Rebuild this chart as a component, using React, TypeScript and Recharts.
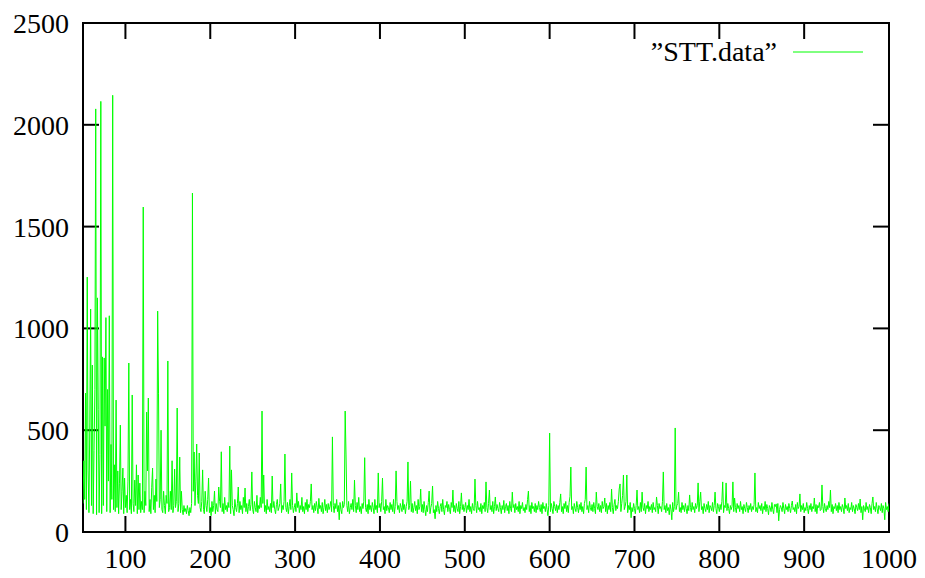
import React from 'react';
import { LineChart, Line, XAxis, YAxis, ReferenceLine, ReferenceArea } from 'recharts';

// STT.data values, x = start + index
const seg050 = [
  140, 350, 160, 682, 110, 1252, 300, 95, 540, 1095,
  130, 820, 90, 400, 700, 2078, 85, 1150, 600, 95,
  380, 2115, 90, 860, 130, 855, 520, 1053, 100, 700,
  250, 1062, 95, 430, 160, 2145, 110, 330, 100, 648,
  120, 300, 90, 240, 525, 110, 200, 314, 90, 265,
];
const seg100 = [
  120, 180, 95, 250, 830, 110, 160, 90, 673, 140,
  100, 255, 130, 330, 90, 280, 110, 240, 95, 150,
  110, 1596, 95, 200, 130, 589, 300, 658, 100, 160,
  90, 220, 314, 110, 180, 95, 260, 150, 1085, 682,
  120, 160, 500, 110, 95, 200, 130, 90, 180, 140,
  840, 100, 120, 200, 110, 350, 95, 130, 309, 120,
  150, 609, 100, 140, 368, 95, 200, 110, 85, 130,
  100, 115, 90, 130, 105, 80, 120, 95, 140, 1665,
  200, 393, 130, 250, 432, 180, 140, 388, 120, 100,
  150, 305, 110, 90, 200, 130, 100, 160, 265, 95,
];
const seg200 = [
  120, 80, 150, 100, 130, 201, 90, 140, 110, 100,
  221, 150, 120, 394, 100, 140, 90, 170, 110, 130,
  100, 145, 120, 422, 90, 305, 130, 110, 80, 160,
  120, 100, 140, 221, 95, 150, 110, 130, 90, 170,
  120, 216, 100, 140, 90, 125, 160, 105, 135, 295,
  110, 90, 150, 120, 100, 180, 95, 130, 115, 170,
  120, 594, 140, 280, 100, 130, 90, 160, 110, 125,
  100, 140, 95, 275, 120, 150, 110, 90, 135, 160,
  105, 120, 140, 236, 95, 130, 110, 150, 383, 120,
  100, 145, 90, 125, 160, 110, 290, 130, 95, 120,
];
const seg300 = [
  140, 100, 192, 120, 150, 95, 130, 110, 170, 100,
  125, 90, 145, 110, 160, 100, 135, 120, 150, 236,
  110, 130, 95, 140, 105, 150, 120, 90, 165, 115,
  130, 100, 145, 90, 120, 160, 105, 135, 95, 140,
  110, 125, 150, 100, 467, 130, 95, 140, 115, 160,
  100, 130, 60, 145, 110, 90, 150, 120, 135, 594,
  383, 130, 100, 150, 90, 120, 140, 110, 160, 100,
  255, 130, 95, 145, 110, 170, 100, 125, 90, 140,
  115, 150, 365, 120, 100, 135, 90, 160, 110, 130,
  100, 145, 120, 90, 160, 110, 130, 95, 290, 120,
];
const seg400 = [
  140, 100, 150, 265, 110, 125, 90, 160, 105, 130,
  120, 95, 145, 110, 135, 100, 160, 90, 125, 300,
  150, 110, 130, 95, 140, 120, 100, 160, 110, 135,
  90, 125, 150, 344, 110, 130, 250, 100, 140, 95,
  120, 150, 105, 130, 90, 160, 110, 125, 211, 100,
  135, 95, 150, 110, 80, 130, 100, 145, 201, 90,
  120, 140, 226, 95, 110, 65, 130, 100, 150, 115,
  90, 125, 140, 100, 160, 110, 85, 130, 120, 150,
  100, 135, 110, 90, 145, 120, 206, 100, 130, 95,
  140, 115, 100, 150, 90, 125, 192, 110, 135, 100,
];
const seg500 = [
  120, 145, 95, 130, 110, 160, 100, 125, 90, 140,
  115, 105, 260, 130, 95, 150, 110, 120, 100, 140,
  90, 130, 115, 145, 100, 246, 120, 95, 140, 206,
  110, 130, 100, 150, 90, 125, 172, 105, 135, 115,
  100, 145, 120, 90, 130, 110, 155, 95, 125, 140,
  105, 130, 90, 150, 115, 100, 196, 120, 135, 95,
  140, 110, 125, 100, 150, 90, 130, 115, 145, 105,
  120, 95, 135, 110, 160, 201, 100, 130, 90, 145,
  115, 125, 100, 140, 95, 130, 110, 150, 120, 100,
  135, 90, 145, 115, 125, 100, 140, 110, 80, 130,
];
const seg600 = [
  486, 100, 140, 115, 90, 150, 125, 105, 135, 95,
  130, 110, 145, 187, 100, 125, 90, 140, 115, 150,
  100, 130, 95, 145, 175, 319, 110, 125, 90, 140,
  115, 100, 150, 120, 95, 135, 110, 145, 100, 125,
  90, 140, 160, 319, 110, 130, 95, 150, 120, 105,
  135, 100, 145, 115, 90, 196, 125, 110, 140, 100,
  130, 95, 150, 115, 125, 167, 100, 140, 90, 130,
  110, 145, 100, 211, 120, 90, 135, 160, 105, 130,
  115, 150, 211, 236, 100, 140, 180, 280, 110, 125,
  150, 280, 95, 130, 110, 145, 70, 120, 100, 140,
];
const seg700 = [
  115, 90, 130, 206, 110, 125, 95, 145, 100, 196,
  120, 105, 140, 90, 130, 115, 150, 100, 125, 110,
  135, 95, 145, 110, 120, 100, 172, 130, 90, 140,
  115, 125, 100, 150, 295, 110, 130, 95, 140, 105,
  120, 85, 135, 110, 60, 145, 100, 125, 511, 110,
  130, 140, 196, 100, 120, 95, 145, 110, 130, 100,
  140, 115, 90, 130, 105, 182, 120, 100, 145, 110,
  125, 95, 140, 115, 130, 241, 100, 150, 196, 110,
  125, 90, 140, 115, 100, 135, 110, 150, 95, 130,
  120, 105, 145, 100, 130, 196, 115, 90, 140, 125,
];
const seg800 = [
  100, 135, 110, 150, 246, 95, 130, 120, 241, 105,
  140, 115, 90, 130, 110, 125, 246, 100, 167, 120,
  95, 140, 115, 130, 100, 150, 110, 125, 90, 135,
  115, 100, 145, 120, 95, 130, 110, 140, 100, 125,
  110, 135, 290, 100, 120, 95, 145, 115, 130, 105,
  140, 90, 125, 110, 150, 100, 135, 115, 85, 130,
  120, 100, 145, 110, 90, 135, 125, 138, 95, 140,
  55, 110, 130, 120, 100, 145, 115, 90, 135, 110,
  125, 100, 140, 115, 95, 130, 152, 110, 120, 100,
  135, 90, 145, 115, 125, 187, 100, 130, 110, 140,
];
const seg900 = [
  95, 120, 105, 145, 115, 90, 130, 110, 140, 100,
  125, 115, 167, 100, 135, 90, 130, 120, 145, 105,
  110, 231, 125, 95, 140, 115, 100, 130, 110, 150,
  120, 206, 100, 135, 90, 125, 115, 140, 105, 130,
  95, 145, 110, 125, 100, 135, 120, 90, 167, 115,
  130, 105, 140, 95, 120, 110, 145, 100, 130, 115,
  90, 135, 120, 105, 140, 110, 162, 95, 125, 60,
  130, 115, 100, 145, 110, 125, 95, 135, 120, 90,
  140, 172, 110, 125, 100, 145, 115, 90, 130, 120,
  105, 140, 95, 130, 115, 60, 145, 110, 125, 100,
];
const seg1000 = [140];

const segments = [
  { start: 50, values: seg050 },
  { start: 100, values: seg100 },
  { start: 200, values: seg200 },
  { start: 300, values: seg300 },
  { start: 400, values: seg400 },
  { start: 500, values: seg500 },
  { start: 600, values: seg600 },
  { start: 700, values: seg700 },
  { start: 800, values: seg800 },
  { start: 900, values: seg900 },
  { start: 1000, values: seg1000 },
];

const xTicks = [100, 200, 300, 400, 500, 600, 700, 800, 900, 1000];
const yTicks = [0, 500, 1000, 1500, 2000, 2500];
const xDomain: [number, number] = [50, 1000];
const yDomain: [number, number] = [0, 2500];
const seriesName = '\u201DSTT.data\u201D';

const data = segments.flatMap((s) => s.values.map((v, i) => ({ x: s.start + i, y: v })));

const W = 925;
const H = 578;
const margin = { top: 23, right: 36, bottom: 0, left: 0 };
const yAxisW = 83;
const xAxisH = 46;
const plotW = W - margin.left - margin.right - yAxisW;
const plotH = H - margin.top - margin.bottom - xAxisH;
const tickPx = 16;
const tickDX = (tickPx * (xDomain[1] - xDomain[0])) / plotW;
const tickDY = (tickPx * (yDomain[1] - yDomain[0])) / plotH;

const FONT = "'Liberation Serif', Tinos, 'Times New Roman', Times, 'DejaVu Serif', serif";
const GREEN = '#00ff00';

export default function App() {
  const tickStyle = { fontFamily: FONT, fontSize: 28, fill: '#000' };
  return (
    <div style={{ position: 'relative', width: W, height: H, fontFamily: FONT }}>
      <style>{'html,body{margin:0;padding:0;overflow:hidden;}'}</style>
      <LineChart width={W} height={H} data={data} margin={margin} style={{ fontFamily: FONT }}>
        <XAxis
          dataKey="x"
          type="number"
          domain={xDomain}
          ticks={xTicks}
          allowDataOverflow
          height={xAxisH}
          axisLine={false}
          tickLine={false}
          tickSize={0}
          tickMargin={16}
          tick={tickStyle}
          interval={0}
        />
        <YAxis
          type="number"
          domain={yDomain}
          ticks={yTicks}
          allowDataOverflow
          width={yAxisW}
          axisLine={false}
          tickLine={false}
          tickSize={0}
          tickMargin={14}
          tick={tickStyle}
          interval={0}
        />
        <ReferenceArea
          x1={xDomain[0]}
          x2={xDomain[1]}
          y1={yDomain[0]}
          y2={yDomain[1]}
          fill="none"
          fillOpacity={0}
          stroke="#000"
          strokeWidth={2}
        />
        {xTicks.map((t) => (
          <ReferenceLine
            key={'xb' + t}
            segment={[{ x: t, y: yDomain[0] }, { x: t, y: yDomain[0] + tickDY }]}
            stroke="#000"
            strokeWidth={2}
          />
        ))}
        {xTicks.map((t) => (
          <ReferenceLine
            key={'xt' + t}
            segment={[{ x: t, y: yDomain[1] }, { x: t, y: yDomain[1] - tickDY }]}
            stroke="#000"
            strokeWidth={2}
          />
        ))}
        {yTicks.map((t) => (
          <ReferenceLine
            key={'yl' + t}
            segment={[{ x: xDomain[0], y: t }, { x: xDomain[0] + tickDX, y: t }]}
            stroke="#000"
            strokeWidth={2}
          />
        ))}
        {yTicks.map((t) => (
          <ReferenceLine
            key={'yr' + t}
            segment={[{ x: xDomain[1], y: t }, { x: xDomain[1] - tickDX, y: t }]}
            stroke="#000"
            strokeWidth={2}
          />
        ))}
        <Line
          dataKey="y"
          type="linear"
          stroke={GREEN}
          strokeWidth={1}
          dot={false}
          activeDot={false}
          isAnimationActive={false}
          name={seriesName}
        />
      </LineChart>
      <svg
        width={W}
        height={80}
        style={{ position: 'absolute', left: 0, top: 0, pointerEvents: 'none' }}
      >
        <text x={777} y={61} textAnchor="end" fontFamily={FONT} fontSize={28} fill="#000">
          {seriesName}
        </text>
        <line x1={793} x2={863} y1={52} y2={52} stroke={GREEN} strokeWidth={1} />
      </svg>
    </div>
  );
}
